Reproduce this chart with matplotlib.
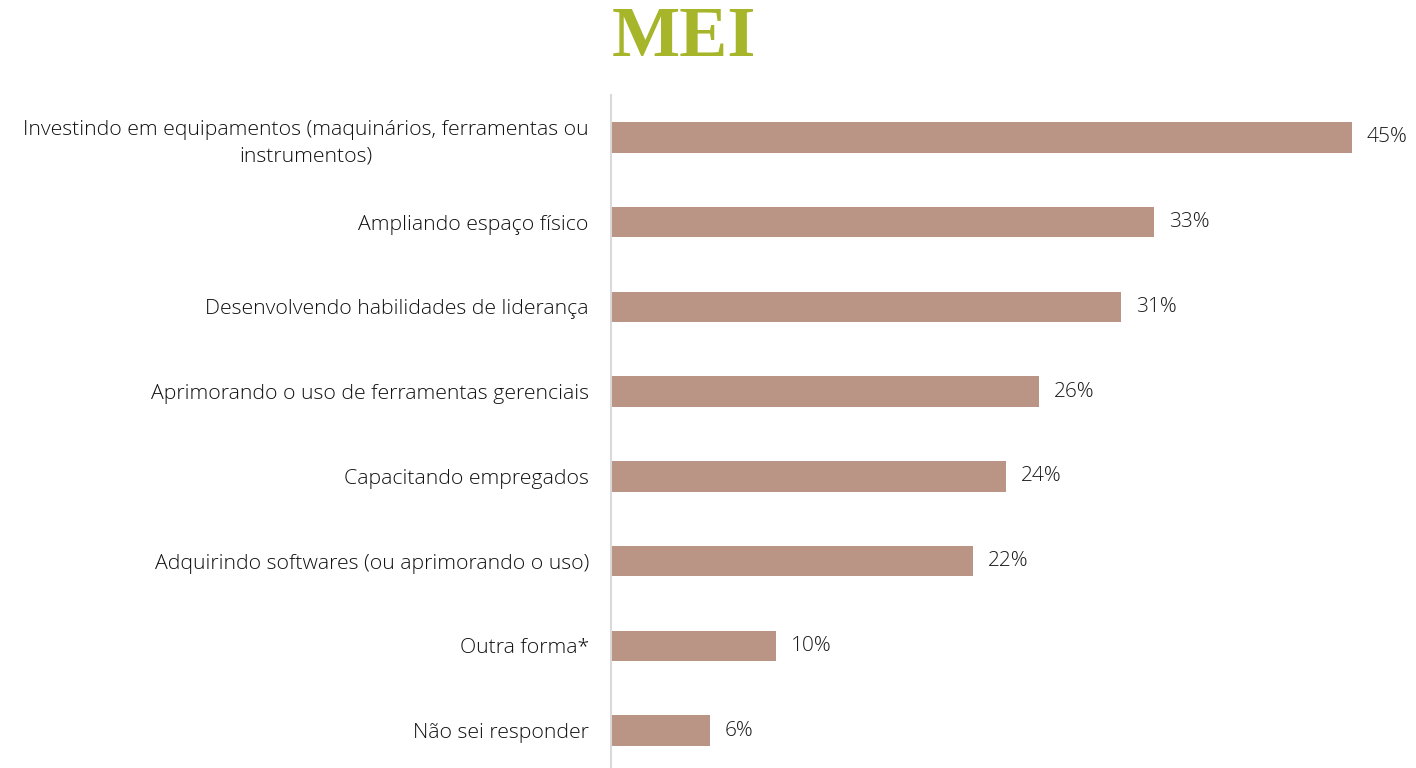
import matplotlib.pyplot as plt
import numpy as np

categorias = ['Investindo em equipamentos (maquinários, ferramentas ou\ninstrumentos)',
              'Ampliando espaço físico',
              'Desenvolvendo habilidades de liderança',
              'Aprimorando o uso de ferramentas gerenciais',
              'Capacitando empregados',
              'Adquirindo softwares (ou aprimorando o uso)',
              'Outra forma*',
              'Não sei responder']
valores = [45, 33, 31, 26, 24, 22, 10, 6]

plt.rcParams['font.family'] = ['Open Sans', 'DejaVu Sans']

fig = plt.figure(figsize=(14.16, 7.68), dpi=100)
ax = fig.add_axes([611 / 1416, -5 / 768, 789 / 1416, (768 - 95 + 5) / 768])

y = np.arange(len(categorias))
ax.barh(y, valores, height=0.36, color='#BA9484')
ax.set_xlim(0, 789 / (741 / 45))
ax.set_ylim(len(categorias) - 0.5, -0.5)

for yi, v in zip(y, valores):
    ax.text(v + 0.9, yi, f'{v}%', va='center', ha='left', fontsize=15,
            fontweight='light', color='#1a1a1a')

ax.set_yticks(y)
ax.set_yticklabels(categorias, fontsize=15.3, fontweight='light', color='#111111',
                   multialignment='center', linespacing=1.45)
ax.tick_params(axis='y', length=0, pad=16)
ax.set_xticks([])
for s in ['top', 'right', 'bottom']:
    ax.spines[s].set_visible(False)
ax.spines['left'].set_color('#D9D9D9')
ax.spines['left'].set_linewidth(1.5)

fig.text(684 / 1416, 1 - 38 / 768, 'MEI', ha='center', va='center', fontsize=52,
         fontweight='bold', family='Liberation Serif', color='#A6B52A')

fig.savefig('out.png', dpi=100)
